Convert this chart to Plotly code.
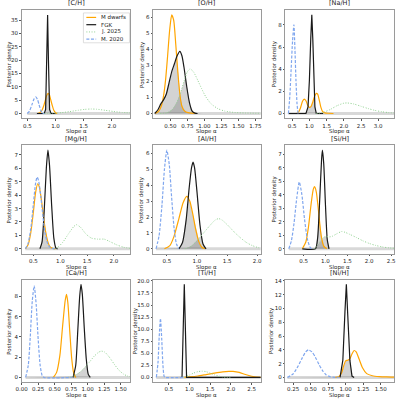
import numpy as np
import plotly.graph_objects as go

# ---------------- data ----------------
TITLES = ["[C/H]", "[O/H]", "[Na/H]", "[Mg/H]", "[Al/H]", "[Si/H]", "[Ca/H]", "[Ti/H]", "[Ni/H]"]
SERIES = ["M dwarfs", "FGK", "J. 2025", "M. 2020"]
X_LABEL = "Slope α"
Y_LABEL = "Posterior density"

# [C/H]
CH_M_X = [0.68, 0.72, 0.76, 0.79, 0.82, 0.845, 0.867, 0.89, 0.91, 0.94, 0.97, 1.00, 1.03]
CH_M_Y = [0, 0.3, 1.2, 2.8, 5.0, 6.8, 7.6, 7.1, 5.6, 3.2, 1.2, 0.3, 0]
CH_F_X = [0.67, 0.80, 0.825, 0.845, 0.86, 0.875, 0.895, 0.92, 1.0]
CH_F_Y = [0, 0, 1.5, 20, 37, 20, 1.5, 0, 0]
CH_J_X = [0.80, 0.95, 1.10, 1.25, 1.40, 1.52, 1.63, 1.73, 1.88, 2.03, 2.18, 2.33]
CH_J_Y = [0, 0.08, 0.3, 0.7, 1.2, 1.55, 1.68, 1.6, 1.2, 0.75, 0.4, 0.2]
CH_B_X = [0.50, 0.54, 0.58, 0.62, 0.65, 0.68, 0.71, 0.74, 0.77, 0.80]
CH_B_Y = [0, 1.0, 3.2, 5.5, 6.2, 5.3, 3.2, 1.1, 0.1, 0]

# [O/H]
OH_M_X = [0.28, 0.33, 0.37, 0.40, 0.43, 0.46, 0.49, 0.52, 0.55, 0.58, 0.61, 0.64, 0.67, 0.71, 0.76, 0.82, 0.88]
OH_M_Y = [0, 0.15, 0.5, 1.1, 2.1, 3.6, 5.2, 6.15, 5.8, 4.3, 2.6, 1.2, 0.45, 0.15, 0.05, 0.02, 0]
OH_F_X = [0.27, 0.32, 0.36, 0.40, 0.44, 0.48, 0.52, 0.56, 0.60, 0.64, 0.67, 0.70, 0.74, 0.78, 0.82, 0.86, 0.90]
OH_F_Y = [0, 0.25, 0.6, 0.85, 1.2, 1.9, 2.6, 3.1, 3.6, 3.88, 3.6, 2.9, 1.7, 0.7, 0.15, 0.02, 0]
OH_J_X = [0.35, 0.45, 0.52, 0.58, 0.64, 0.70, 0.75, 0.79, 0.84, 0.90, 0.96, 1.02, 1.10, 1.20, 1.30, 1.45, 1.60, 1.83]
OH_J_Y = [0, 0.05, 0.2, 0.55, 1.15, 2.0, 2.6, 2.78, 2.6, 2.1, 1.55, 1.05, 0.6, 0.3, 0.15, 0.06, 0.03, 0.01]
OH_B_X = []
OH_B_Y = []

# [Na/H]
NA_M_X = [0.62, 0.68, 0.74, 0.80, 0.85, 0.90, 0.95, 1.00, 1.05, 1.10, 1.15, 1.20, 1.24, 1.28, 1.33, 1.38, 1.45, 1.55, 1.70]
NA_M_Y = [0, 0.1, 0.5, 1.1, 1.3, 1.15, 0.75, 0.55, 0.65, 1.05, 1.55, 1.82, 1.75, 1.3, 0.6, 0.2, 0.06, 0.02, 0]
NA_F_X = [0.40, 0.90, 0.96, 1.00, 1.04, 1.07, 1.10, 1.13, 1.16, 1.20, 1.40]
NA_F_Y = [0, 0, 0.6, 3.0, 6.8, 8.9, 6.6, 2.8, 0.6, 0, 0]
NA_J_X = [1.20, 1.40, 1.60, 1.80, 2.00, 2.10, 2.30, 2.50, 2.70, 2.90, 3.10, 3.30, 3.46]
NA_J_Y = [0, 0.1, 0.35, 0.7, 0.93, 0.95, 0.85, 0.65, 0.45, 0.28, 0.16, 0.08, 0.04]
NA_B_X = [0.39, 0.43, 0.47, 0.51, 0.55, 0.58, 0.61, 0.64, 0.67]
NA_B_Y = [0, 1.5, 4.0, 6.5, 8.0, 5.8, 3.0, 0.9, 0]

# [Mg/H]
MG_M_X = [0.35, 0.40, 0.45, 0.50, 0.54, 0.58, 0.61, 0.65, 0.69, 0.73, 0.77, 0.81, 0.86, 0.91]
MG_M_Y = [0, 0.3, 1.2, 2.8, 4.2, 4.85, 4.6, 3.6, 2.3, 1.2, 0.5, 0.15, 0.03, 0]
MG_F_X = [0.62, 0.66, 0.70, 0.74, 0.77, 0.80, 0.84, 0.88, 0.92, 0.95]
MG_F_Y = [0, 0.5, 2.8, 6.0, 7.35, 6.2, 3.2, 0.8, 0.05, 0]
MG_J_X = [0.88, 0.95, 1.05, 1.15, 1.25, 1.30, 1.38, 1.48, 1.58, 1.70, 1.82, 1.92, 2.05, 2.18, 2.30]
MG_J_Y = [0, 0.1, 0.5, 1.1, 1.65, 1.8, 1.6, 1.1, 0.8, 0.72, 0.72, 0.55, 0.3, 0.12, 0.03]
MG_B_X = [0.35, 0.40, 0.45, 0.50, 0.54, 0.57, 0.60, 0.64, 0.68, 0.72, 0.76, 0.80, 0.85, 0.91]
MG_B_Y = [0, 0.4, 1.5, 3.4, 4.9, 5.35, 5.0, 3.8, 2.3, 1.1, 0.45, 0.15, 0.03, 0]

# [Al/H]
AL_M_X = [0.46, 0.55, 0.62, 0.70, 0.77, 0.83, 0.88, 0.93, 0.98, 1.03, 1.08, 1.13]
AL_M_Y = [0, 0.2, 0.8, 1.9, 2.9, 3.3, 3.0, 2.2, 1.2, 0.45, 0.1, 0]
AL_F_X = [0.70, 0.76, 0.82, 0.87, 0.91, 0.935, 0.96, 1.00, 1.05, 1.10, 1.15]
AL_F_Y = [0, 0.4, 1.8, 3.8, 5.1, 5.45, 5.1, 3.6, 1.5, 0.3, 0]
AL_J_X = [0.80, 0.90, 1.00, 1.10, 1.20, 1.30, 1.36, 1.42, 1.52, 1.62, 1.72, 1.82, 1.92, 2.02, 2.06]
AL_J_Y = [0, 0.15, 0.5, 0.95, 1.4, 1.8, 1.9, 1.8, 1.45, 1.05, 0.7, 0.4, 0.2, 0.07, 0.04]
AL_B_X = [0.32, 0.37, 0.42, 0.46, 0.50, 0.54, 0.58, 0.62, 0.66, 0.70]
AL_B_Y = [0, 0.8, 2.8, 5.0, 6.2, 5.3, 3.2, 1.3, 0.3, 0]

# [Si/H]
SI_M_X = [0.47, 0.55, 0.61, 0.67, 0.72, 0.75, 0.79, 0.84, 0.90, 0.96, 1.03]
SI_M_Y = [0, 0.5, 1.6, 3.3, 4.4, 4.6, 4.2, 2.8, 1.0, 0.2, 0]
SI_F_X = [0.47, 0.77, 0.82, 0.87, 0.91, 0.93, 0.96, 1.00, 1.04, 1.08]
SI_F_Y = [0, 0, 0.8, 3.8, 6.6, 7.3, 6.3, 3.2, 0.7, 0]
SI_J_X = [0.75, 0.82, 0.90, 0.97, 1.03, 1.09, 1.15, 1.25, 1.37, 1.45, 1.55, 1.70, 1.85, 2.00, 2.15, 2.30, 2.45, 2.57]
SI_J_Y = [0, 0.3, 0.65, 0.88, 0.9, 0.88, 0.92, 1.1, 1.28, 1.22, 1.08, 0.85, 0.6, 0.4, 0.25, 0.14, 0.07, 0.04]
SI_B_X = [0.16, 0.22, 0.28, 0.34, 0.40, 0.46, 0.52, 0.58, 0.64, 0.68]
SI_B_Y = [0, 0.6, 1.9, 3.7, 4.95, 4.0, 2.2, 0.8, 0.15, 0]

# [Ca/H]
CA_M_X = [0.48, 0.53, 0.58, 0.62, 0.66, 0.68, 0.70, 0.73, 0.76, 0.79, 0.82]
CA_M_Y = [0, 0.5, 2.2, 5.0, 7.6, 8.2, 7.4, 4.5, 1.8, 0.4, 0]
CA_F_X = [0.78, 0.82, 0.85, 0.88, 0.90, 0.92, 0.95, 0.98, 1.01, 1.04]
CA_F_Y = [0, 1.2, 4.5, 8.0, 9.2, 8.2, 4.8, 1.8, 0.3, 0]
CA_J_X = [0.70, 0.78, 0.86, 0.94, 1.02, 1.10, 1.17, 1.21, 1.26, 1.33, 1.40, 1.47, 1.54, 1.60, 1.65]
CA_J_Y = [0, 0.12, 0.4, 0.85, 1.45, 2.1, 2.5, 2.6, 2.5, 2.0, 1.35, 0.75, 0.35, 0.15, 0.07]
CA_B_X = [0.06, 0.10, 0.13, 0.16, 0.19, 0.22, 0.25, 0.28, 0.31, 0.34, 0.76]
CA_B_Y = [0, 1.2, 4.0, 7.5, 9.05, 7.2, 3.8, 1.2, 0.2, 0, 0]

# [Ti/H]
TI_M_X = [0.88, 1.0, 1.2, 1.4, 1.6, 1.8, 1.95, 2.05, 2.2, 2.35, 2.5, 2.62, 2.72]
TI_M_Y = [0, 0.1, 0.3, 0.6, 0.9, 1.15, 1.25, 1.25, 1.05, 0.6, 0.25, 0.07, 0.02]
TI_F_X = [0.82, 0.875, 0.93, 2.72]
TI_F_Y = [0, 19.3, 0, 0]
TI_J_X = [0.82, 0.90, 1.00, 1.10, 1.20, 1.30, 1.40, 1.50, 1.60, 1.70, 1.80, 1.90, 2.00]
TI_J_Y = [0, 0.15, 0.5, 0.9, 1.2, 1.3, 1.2, 0.9, 0.55, 0.28, 0.12, 0.04, 0.01]
TI_B_X = [0.20, 0.24, 0.27, 0.30, 0.33, 0.36, 0.39, 0.42, 0.86]
TI_B_Y = [0, 3.0, 8.5, 12.2, 8.0, 2.5, 0.2, 0, 0]

# [Ni/H]
NI_M_X = [0.85, 0.90, 0.94, 0.97, 1.00, 1.03, 1.06, 1.09, 1.12, 1.15, 1.19, 1.24, 1.30, 1.38, 1.48, 1.58, 1.69]
NI_M_Y = [0, 0.1, 0.6, 1.6, 2.4, 2.5, 2.7, 3.4, 3.9, 3.7, 2.7, 1.4, 0.55, 0.25, 0.12, 0.07, 0.04]
NI_F_X = [0.92, 0.96, 0.99, 1.01, 1.03, 1.06, 1.09, 1.12]
NI_F_Y = [0, 2.5, 9.5, 13.5, 9.0, 2.5, 0.2, 0]
NI_J_X = []
NI_J_Y = []
NI_B_X = [0.17, 0.25, 0.32, 0.38, 0.43, 0.47, 0.52, 0.57, 0.62, 0.67, 0.72, 0.78, 0.85, 0.90]
NI_B_Y = [0, 0.5, 1.6, 2.8, 3.7, 4.0, 3.7, 2.9, 1.9, 1.0, 0.4, 0.1, 0.02, 0]

# tick labels
X_TICKS = [[0.5, 1.0, 1.5, 2.0], [0.5, 0.75, 1.0, 1.25, 1.5, 1.75], [0.5, 1.0, 1.5, 2.0, 2.5, 3.0],
           [0.5, 1.0, 1.5, 2.0], [0.5, 1.0, 1.5, 2.0], [0.5, 1.0, 1.5, 2.0, 2.5],
           [0.0, 0.25, 0.5, 0.75, 1.0, 1.25, 1.5], [0.5, 1.0, 1.5, 2.0, 2.5], [0.25, 0.5, 0.75, 1.0, 1.25, 1.5]]
Y_TICKS = [[0, 5, 10, 15, 20, 25, 30, 35], [0, 1, 2, 3, 4, 5, 6], [0, 2, 4, 6, 8],
           [0, 1, 2, 3, 4, 5, 6, 7], [0, 1, 2, 3, 4, 5, 6], [0, 1, 2, 3, 4, 5, 6, 7],
           [0, 2, 4, 6, 8], [0, 2.5, 5, 7.5, 10, 12.5, 15, 17.5, 20], [0, 2, 4, 6, 8, 10, 12, 14]]

# ---------------- layout / styling ----------------
PANEL_DATA = [
    (CH_M_X, CH_M_Y, CH_F_X, CH_F_Y, CH_J_X, CH_J_Y, CH_B_X, CH_B_Y),
    (OH_M_X, OH_M_Y, OH_F_X, OH_F_Y, OH_J_X, OH_J_Y, OH_B_X, OH_B_Y),
    (NA_M_X, NA_M_Y, NA_F_X, NA_F_Y, NA_J_X, NA_J_Y, NA_B_X, NA_B_Y),
    (MG_M_X, MG_M_Y, MG_F_X, MG_F_Y, MG_J_X, MG_J_Y, MG_B_X, MG_B_Y),
    (AL_M_X, AL_M_Y, AL_F_X, AL_F_Y, AL_J_X, AL_J_Y, AL_B_X, AL_B_Y),
    (SI_M_X, SI_M_Y, SI_F_X, SI_F_Y, SI_J_X, SI_J_Y, SI_B_X, SI_B_Y),
    (CA_M_X, CA_M_Y, CA_F_X, CA_F_Y, CA_J_X, CA_J_Y, CA_B_X, CA_B_Y),
    (TI_M_X, TI_M_Y, TI_F_X, TI_F_Y, TI_J_X, TI_J_Y, TI_B_X, TI_B_Y),
    (NI_M_X, NI_M_Y, NI_F_X, NI_F_Y, NI_J_X, NI_J_Y, NI_B_X, NI_B_Y),
]
X_RANGES = [[0.40, 2.33], [0.245, 1.83], [0.30, 3.46], [0.28, 2.31], [0.27, 2.06],
            [0.08, 2.57], [0.0, 1.65], [0.12, 2.72], [0.14, 1.69]]
X_FMT = [".1f", ".2f", ".1f", ".1f", ".1f", ".1f", ".2f", ".1f", ".2f"]
Y_FMT = ["d", "d", "d", "d", "d", "d", "d", ".1f", "d"]
YLAB_OFF = [12.5, 11.5, 11.5, 12, 11.5, 11.5, 12, 18, 13.5]
SPIKY = {0, 2, 7, 8}

W, H = 400, 402
COLS_PX = [(16, 127), (150, 260), (285, 396)]
ROWS_PX = [(8, 117), (144, 253), (279, 382)]

C_M = "#ffa500"
C_F = "#1a1a1a"
C_J = "#93d293"
C_B = "#7fa6ee"
DASH_J = "1px,1.6px"
DASH_B = "3px,1.6px"
FONT = "DejaVu Sans"
TXT = "#222"

fig = go.Figure()
annotations = []
shapes = []

for i, title in enumerate(TITLES):
    r, c = divmod(i, 3)
    ax = "" if i == 0 else str(i + 1)
    xa, ya = "x" + ax, "y" + ax
    mx, my, fx, fy, jx, jy, bx, by = PANEL_DATA[i]
    ymax = max(max(my), max(fy), max(jy) if jy else 0, max(by) if by else 0)
    yr = [-0.05 * ymax, 1.05 * ymax]

    # baseline band
    allx = mx + fx + jx + bx
    fig.add_trace(go.Scatter(x=[min(allx), max(allx)], y=[0, 0], mode="lines",
                             line=dict(color="rgba(190,190,190,0.6)", width=3),
                             xaxis=xa, yaxis=ya, showlegend=False, hoverinfo="skip"))
    # overlap shading between FGK and the other posteriors
    grid = np.linspace(X_RANGES[i][0], X_RANGES[i][1], 600)
    fi = np.interp(grid, fx, fy, left=0, right=0)
    for ox, oy in ((mx, my), (jx, jy)):
        if not ox:
            continue
        oi = np.interp(grid, ox, oy, left=0, right=0)
        ov = np.minimum(fi, oi)
        fig.add_trace(go.Scatter(x=grid, y=ov, mode="lines", line=dict(width=0),
                                 fill="tozeroy", fillcolor="rgba(110,110,110,0.30)",
                                 xaxis=xa, yaxis=ya, showlegend=False, hoverinfo="skip"))

    shape_f = "linear" if i in SPIKY else "spline"
    fig.add_trace(go.Scatter(x=mx, y=my, mode="lines", name=SERIES[0],
                             line=dict(color=C_M, width=1.2, shape="spline", smoothing=0.6),
                             xaxis=xa, yaxis=ya, showlegend=False))
    fig.add_trace(go.Scatter(x=fx, y=fy, mode="lines", name=SERIES[1],
                             line=dict(color=C_F, width=1.2, shape=shape_f, smoothing=0.6),
                             xaxis=xa, yaxis=ya, showlegend=False))
    if jx:
        fig.add_trace(go.Scatter(x=jx, y=jy, mode="lines", name=SERIES[2],
                                 line=dict(color=C_J, width=1.0, dash=DASH_J, shape="spline", smoothing=0.6),
                                 xaxis=xa, yaxis=ya, showlegend=False))
    if bx:
        fig.add_trace(go.Scatter(x=bx, y=by, mode="lines", name=SERIES[3],
                                 line=dict(color=C_B, width=1.2, dash=DASH_B, shape="spline", smoothing=0.6),
                                 xaxis=xa, yaxis=ya, showlegend=False))

    x0, x1 = COLS_PX[c]
    y0, y1 = ROWS_PX[r]
    common = dict(showline=True, mirror=True, linecolor="#9a9a9a", linewidth=1,
                  ticks="outside", ticklen=1.5, tickwidth=0.8, tickcolor="#555",
                  showgrid=False, zeroline=False,
                  tickfont=dict(family=FONT, size=5.5, color=TXT))
    fig.layout["xaxis" + ax] = dict(
        domain=[x0 / W, x1 / W], anchor=ya, range=X_RANGES[i],
        tickvals=X_TICKS[i], tickformat=X_FMT[i], **common)
    fig.layout["yaxis" + ax] = dict(
        domain=[1 - y1 / H, 1 - y0 / H], anchor=xa, range=yr,
        tickvals=Y_TICKS[i], tickformat=Y_FMT[i], **common)
    # panel title
    annotations.append(dict(text=title, x=(x0 + x1) / 2 / W, y=1 - (y0 - 0.5) / H,
                            xref="paper", yref="paper", xanchor="center", yanchor="bottom",
                            showarrow=False, font=dict(family=FONT, size=6.5, color=TXT)))
    # axis labels
    annotations.append(dict(text=X_LABEL, x=(x0 + x1) / 2 / W, y=1 - (y1 + 8) / H,
                            xref="paper", yref="paper", xanchor="center", yanchor="top",
                            showarrow=False, font=dict(family=FONT, size=5.5, color=TXT)))
    annotations.append(dict(text=Y_LABEL, x=(x0 - YLAB_OFF[i]) / W, y=1 - (y0 + y1) / 2 / H,
                            xref="paper", yref="paper", xanchor="center", yanchor="middle",
                            textangle=-90, showarrow=False,
                            font=dict(family=FONT, size=5.5, color=TXT)))

# compact legend (matplotlib-style) in the first panel
LEG_STYLES = [(C_M, "solid", 1.2), (C_F, "solid", 1.2), (C_J, DASH_J, 1.0), (C_B, DASH_B, 1.2)]
lx0, lx1, ly0, ly1 = 79, 126, 11, 41
shapes.append(dict(type="rect", xref="paper", yref="paper",
                   x0=lx0 / W, x1=lx1 / W, y0=1 - ly1 / H, y1=1 - ly0 / H,
                   line=dict(color="#d0d0d0", width=0.7), fillcolor="rgba(255,255,255,0.85)",
                   layer="above"))
for k, (name, (col, dash, wd)) in enumerate(zip(SERIES, LEG_STYLES)):
    yy = 1 - (15.5 + 7.3 * k) / H
    shapes.append(dict(type="line", xref="paper", yref="paper",
                       x0=82 / W, x1=92 / W, y0=yy, y1=yy,
                       line=dict(color=col, width=wd, dash=dash), layer="above"))
    annotations.append(dict(text=name, x=95 / W, y=yy, xref="paper", yref="paper",
                            xanchor="left", yanchor="middle", showarrow=False,
                            font=dict(family=FONT, size=5.5, color=TXT)))

fig.update_layout(
    width=W, height=H, margin=dict(l=0, r=0, t=0, b=0),
    paper_bgcolor="white", plot_bgcolor="white",
    annotations=annotations, shapes=shapes, showlegend=False,
)
fig.write_html("out.html")
